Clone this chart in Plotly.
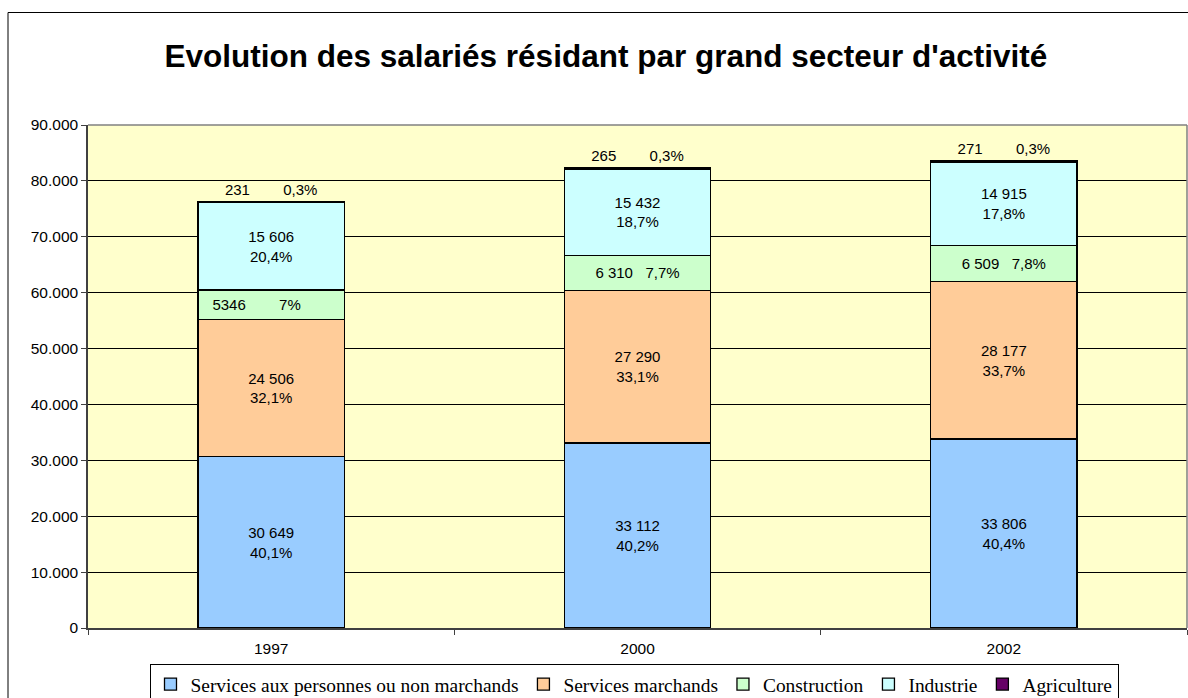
import plotly.graph_objects as go

years = ["1997", "2000", "2002"]
series_names = ["Services aux personnes ou non marchands", "Services marchands",
                "Construction", "Industrie", "Agriculture"]
services_personnes = [30649, 33112, 33806]
services_marchands = [24506, 27290, 28177]
construction = [5346, 6310, 6509]
industrie = [15606, 15432, 14915]
agriculture = [231, 265, 271]

pct_services_personnes = ["40,1%", "40,2%", "40,4%"]
pct_services_marchands = ["32,1%", "33,1%", "33,7%"]
pct_construction = ["7%", "7,7%", "7,8%"]
pct_industrie = ["20,4%", "18,7%", "17,8%"]
pct_agriculture = ["0,3%", "0,3%", "0,3%"]
construction_value_labels = ["5346", "6 310", "6 509"]

colors = ["#99CCFF", "#FFCC99", "#CCFFCC", "#CCFFFF", "#660066"]

NB = "\u00a0"


def fmt(v):
    return f"{v:,}".replace(",", " ")


def two_line(vals, pcts):
    return [f"{fmt(v)}<br>{p}" for v, p in zip(vals, pcts)]


def one_line(labels, pcts, gaps, trail):
    return [f"{l}{NB * g}{p}{NB * t}" for l, p, g, t in zip(labels, pcts, gaps, trail)]


texts = [
    two_line(services_personnes, pct_services_personnes),
    two_line(services_marchands, pct_services_marchands),
    one_line(construction_value_labels, pct_construction, [8, 3, 3], [7, 0, 0]),
    two_line(industrie, pct_industrie),
    one_line([fmt(v) for v in agriculture], pct_agriculture, [8, 8, 8], [0, 0, 0]),
]
values = [services_personnes, services_marchands, construction, industrie, agriculture]

fig = go.Figure()
for i, (name, vals) in enumerate(zip(series_names, values)):
    fig.add_trace(go.Bar(
        x=years, y=vals, name=name, width=0.4,
        marker=dict(color=colors[i], line=dict(color="black", width=1.3)),
        text=texts[i],
        textposition="outside" if i == 4 else "inside",
        insidetextanchor="middle",
        textangle=0,
        textfont=dict(family="Liberation Sans", size=15, color="black"),
        cliponaxis=False,
        hoverinfo="skip",
    ))

fig.update_layout(
    width=1188, height=698,
    barmode="stack",
    separators=",.",
    paper_bgcolor="white",
    plot_bgcolor="#FFFFCC",
    margin=dict(l=88, r=1, t=125, b=70),
    uniformtext=dict(minsize=15, mode="show"),
    title=dict(
        text="Evolution des salariés résidant par grand secteur d'activité",
        font=dict(family="Liberation Sans", size=31.5, color="black", weight="bold"),
        x=0.51, xanchor="center", xref="container",
        y=1 - 56 / 698, yanchor="middle", yref="container",
    ),
    font=dict(family="Liberation Sans", color="black"),
    legend=dict(
        orientation="h", xref="container", x=634 / 1188, xanchor="center",
        yref="container", y=1 - 664 / 698, yanchor="top",
        bordercolor="black", borderwidth=1, bgcolor="white",
        font=dict(family="Liberation Serif", size=19.4, color="black"),
        traceorder="normal", itemwidth=30,
    ),
    xaxis=dict(
        range=[-0.5, 2.5], tickson="boundaries", ticks="outside", ticklen=5,
        tickcolor="#404040", showline=True, linecolor="#404040", linewidth=1.5,
        showgrid=False, tickfont=dict(family="Liberation Sans", size=15.5, color="black"),
        ticklabelstandoff=6, fixedrange=True,
    ),
    yaxis=dict(
        range=[0, 90000], dtick=10000, tickformat=",d", ticks="outside", ticklen=5,
        tickcolor="#404040", showline=True, linecolor="#404040", linewidth=1.5,
        showgrid=True, gridcolor="black", gridwidth=1, zeroline=False,
        tickfont=dict(family="Liberation Sans", size=15.5, color="black"),
        fixedrange=True,
    ),
    shapes=[
        dict(type="line", xref="paper", yref="paper", x0=0, x1=1, y0=1, y1=1,
             line=dict(color="#808080", width=1.5), layer="above"),
        dict(type="line", xref="paper", yref="paper", x0=1, x1=1, y0=0, y1=1,
             line=dict(color="#808080", width=1.5), layer="above"),
        dict(type="rect", xref="paper", yref="paper",
             x0=(8 - 88) / 1099, x1=1.01, y0=-0.2, y1=(628 - 12.5) / 503,
             line=dict(color="black", width=1), layer="below"),
    ],
)

fig.write_html("out.html", config={"displayModeBar": False},
               post_script="document.body.style.margin='0';document.body.style.overflow='hidden';")
